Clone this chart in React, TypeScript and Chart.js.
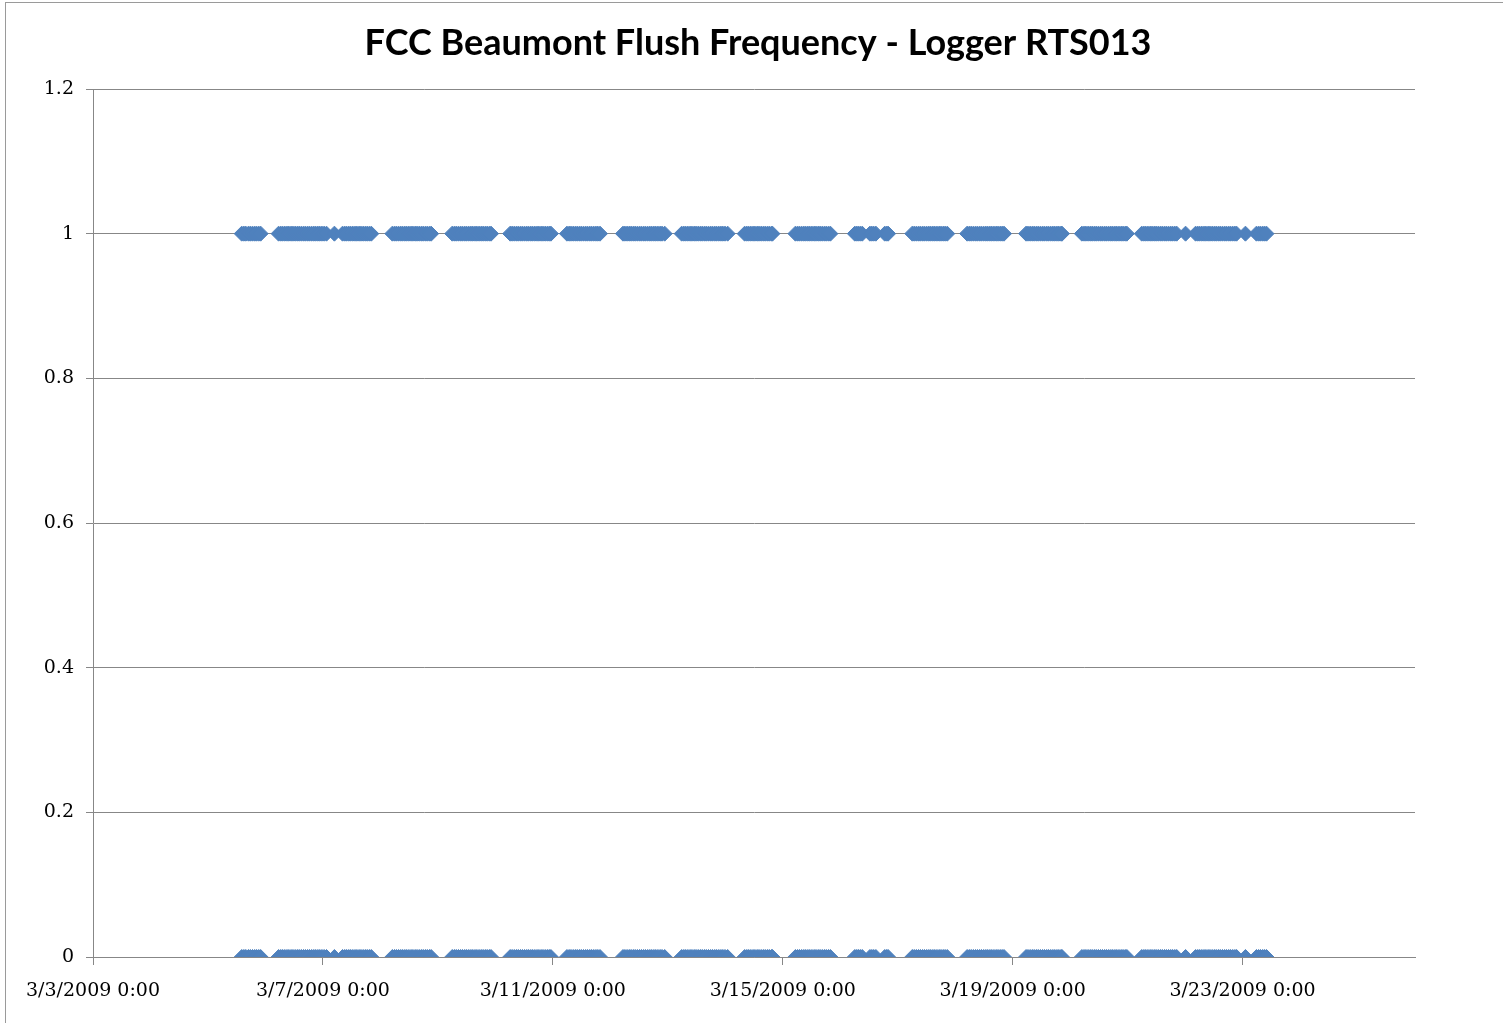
import React, { useEffect, useRef } from "react";
import { Chart, registerables } from "chart.js";

Chart.register(...registerables);

const chartTitle = "FCC Beaumont Flush Frequency - Logger RTS013";
// x axis: days after 3/3/2009 0:00
const xTickDays = [0, 4, 8, 12, 16, 20];
const xTickLabels = [
  "3/3/2009 0:00",
  "3/7/2009 0:00",
  "3/11/2009 0:00",
  "3/15/2009 0:00",
  "3/19/2009 0:00",
  "3/23/2009 0:00",
];
const yTicks = [0, 0.2, 0.4, 0.6, 0.8, 1, 1.2];
const yTickLabels = ["0", "0.2", "0.4", "0.6", "0.8", "1", "1.2"];
// each logged flush event is recorded as both states
const flushStates = [1, 0];

// flush event times, hour of day, March 2009
const mar05 = [14.1, 15.0, 15.8, 16.9, 17.7, 18.6, 19.5, 20.3, 21.2, 22.0];
const mar06 = [5.5, 6.4, 7.2, 8.1, 9.0, 9.8, 10.7, 11.5, 12.4, 13.3, 14.1, 15.0, 15.9, 16.7, 17.6, 18.4, 19.3, 20.2, 21.0, 21.9, 22.7, 23.6];
const mar07 = [0.5, 1.5, 4.8, 8.2, 9.1, 9.9, 10.8, 11.6, 12.5, 13.4, 14.2, 15.1, 15.9, 16.8, 17.7, 18.5, 19.4, 20.2];
const mar08 = [5.0, 5.9, 6.7, 7.6, 8.5, 9.3, 10.2, 11.0, 11.9, 12.8, 13.6, 14.5, 15.3, 16.2, 17.1, 17.9, 18.8, 19.6, 20.5, 21.2];
const mar09 = [6.0, 6.9, 7.7, 8.6, 9.5, 10.3, 11.2, 12.0, 12.9, 13.8, 14.6, 15.5, 16.3, 17.2, 18.1, 18.9, 19.8, 20.6, 21.5, 22.2];
const mar10 = [6.2, 7.0, 7.9, 8.8, 9.6, 10.5, 11.3, 12.2, 13.1, 13.9, 14.8, 15.6, 16.5, 17.4, 18.2, 19.1, 19.9, 20.8, 21.7, 22.5, 23.2];
const mar11 = [5.9, 6.8, 7.6, 8.5, 9.4, 10.2, 11.1, 11.9, 12.8, 13.7, 14.5, 15.4, 16.2, 17.1, 18.0, 18.8, 19.7];
const mar12 = [5.3, 6.1, 7.0, 7.9, 8.7, 9.6, 10.4, 11.3, 12.2, 13.0, 13.9, 14.7, 15.6, 16.5, 17.3, 18.2, 19.0, 19.9, 20.8, 21.6, 22.7];
const mar13 = [5.8, 6.7, 7.5, 8.4, 9.3, 10.1, 11.0, 11.8, 12.7, 13.6, 14.4, 15.3, 16.1, 17.0, 17.9, 18.7, 19.6, 20.4, 21.3, 22.2, 23.0, 23.9];
const mar14 = [1.0, 8.1, 9.0, 9.8, 10.7, 11.6, 12.4, 13.3, 14.1, 15.0, 15.9, 16.7, 17.6, 18.4, 19.3, 19.7];
const mar15 = [5.3, 6.2, 7.0, 7.9, 8.8, 9.6, 10.5, 11.3, 12.2, 13.1, 13.9, 14.8, 15.6, 16.5, 17.4, 18.2, 19.1, 19.9];
const mar16 = [6.1, 6.9, 7.6, 8.4, 9.2, 12.4, 13.2, 14.0, 14.9, 18.6, 19.4, 20.0];
const mar17 = [6.1, 6.9, 7.8, 8.7, 9.5, 10.4, 11.2, 12.1, 13.0, 13.8, 14.7, 15.5, 16.4, 17.3, 18.1, 19.0, 19.8, 20.7];
const mar18 = [5.0, 5.9, 6.7, 7.6, 8.5, 9.3, 10.2, 11.0, 11.9, 12.8, 13.6, 14.5, 15.3, 16.2, 17.1, 17.9, 18.8, 19.6, 20.4];
const mar19 = [5.6, 6.4, 7.3, 8.2, 9.0, 9.9, 10.7, 11.6, 12.5, 13.3, 14.2, 15.0, 15.9, 16.8, 17.6, 18.5, 19.3, 20.2, 20.6];
const mar20 = [4.9, 5.8, 6.6, 7.5, 8.4, 9.2, 10.1, 10.9, 11.8, 12.7, 13.5, 14.4, 15.2, 16.1, 17.0, 17.8, 18.7, 19.5, 20.4, 21.3, 22.1, 23.0, 23.7];
const mar21 = [5.9, 6.8, 7.6, 8.5, 9.4, 10.2, 11.1, 11.9, 12.8, 13.7, 14.5, 15.4, 16.2, 17.1, 18.0, 18.8, 19.7, 20.5];
const mar22 = [0.2, 4.4, 5.3, 6.1, 7.0, 7.9, 8.7, 9.6, 10.4, 11.3, 12.2, 13.0, 13.9, 14.7, 15.6, 16.5, 17.3, 18.2, 19.0, 19.9, 20.8, 21.5];
const mar23 = [1.2, 5.8, 6.7, 7.5, 8.4, 9.2, 10.0];

const flushDayOfMonth = [5, 6, 7, 8, 9, 10, 11, 12, 13, 14, 15, 16, 17, 18, 19, 20, 21, 22, 23];
const flushHours = [mar05, mar06, mar07, mar08, mar09, mar10, mar11, mar12, mar13, mar14, mar15, mar16, mar17, mar18, mar19, mar20, mar21, mar22, mar23];

const FIRST_DAY = 3;
const X_MAX_DAYS = 23;

const titlePlugin = {
  id: "excelTitle",
  afterDraw(chart: any) {
    const ctx = chart.ctx;
    ctx.save();
    ctx.font = "bold 36px Lato";
    ctx.fillStyle = "#000";
    ctx.textAlign = "center";
    ctx.textBaseline = "middle";
    ctx.fillText(chartTitle, 758, 43);
    ctx.restore();
  },
};

export default function App() {
  const canvasRef = useRef<HTMLCanvasElement | null>(null);

  useEffect(() => {
    const canvas = canvasRef.current;
    if (!canvas) return;

    const points: { x: number; y: number }[] = [];
    flushDayOfMonth.forEach((day, i) => {
      flushHours[i].forEach((h) => {
        flushStates.forEach((s) => {
          points.push({ x: day - FIRST_DAY + h / 24, y: s });
        });
      });
    });

    const gridColor = "#878787";
    const tickFont = { family: "DejaVu Serif", size: 19 };

    const chart = new Chart(canvas, {
      type: "scatter",
      data: {
        datasets: [
          {
            label: "Flush",
            data: points,
            showLine: false,
            pointStyle: "rectRot",
            pointRadius: 7.5,
            pointBorderWidth: 1,
            backgroundColor: "#4F81BD",
            borderColor: "#4F81BD",
          },
        ],
      },
      options: {
        animation: false,
        responsive: false,
        devicePixelRatio: 1,
        layout: { padding: { left: 12, right: 88, top: 89, bottom: 0 } },
        plugins: {
          legend: { display: false },
          tooltip: { enabled: false },
          title: { display: false },
        },
        scales: {
          x: {
            type: "linear",
            min: 0,
            max: X_MAX_DAYS,
            afterBuildTicks: (scale: any) => {
              scale.ticks = xTickDays.map((v) => ({ value: v }));
            },
            afterFit: (scale: any) => {
              scale.height = 66;
            },
            ticks: {
              autoSkip: false,
              maxRotation: 0,
              color: "#000",
              font: tickFont,
              padding: 15,
              callback: (v: any) => {
                const i = xTickDays.indexOf(Number(v));
                return i >= 0 ? xTickLabels[i] : "";
              },
            },
            grid: {
              display: true,
              drawOnChartArea: false,
              drawTicks: true,
              tickLength: 8,
              color: gridColor,
            },
            border: { color: gridColor },
          },
          y: {
            min: 0,
            max: 1.2,
            afterBuildTicks: (scale: any) => {
              scale.ticks = yTicks.map((v) => ({ value: v }));
            },
            afterFit: (scale: any) => {
              scale.width = 81;
            },
            ticks: {
              color: "#000",
              font: tickFont,
              padding: 12,
              callback: (v: any) => {
                const i = yTicks.findIndex((t) => Math.abs(t - Number(v)) < 1e-6);
                return i >= 0 ? yTickLabels[i] : "";
              },
            },
            grid: { color: gridColor, tickLength: 7 },
            border: { color: gridColor },
          },
        },
      },
      plugins: [titlePlugin],
    });

    return () => chart.destroy();
  }, []);

  return (
    <div style={{ position: "fixed", left: 0, top: 0, width: 1503, height: 1023, background: "#fff", overflow: "hidden" }}>
      <div
        style={{
          position: "absolute",
          left: 5,
          top: 2,
          width: 1600,
          height: 1100,
          borderLeft: "1px solid #9a9a9a",
          borderTop: "1px solid #9a9a9a",
        }}
      />
      <canvas ref={canvasRef} width={1503} height={1023} style={{ position: "absolute", left: 0, top: 0 }} />
    </div>
  );
}
